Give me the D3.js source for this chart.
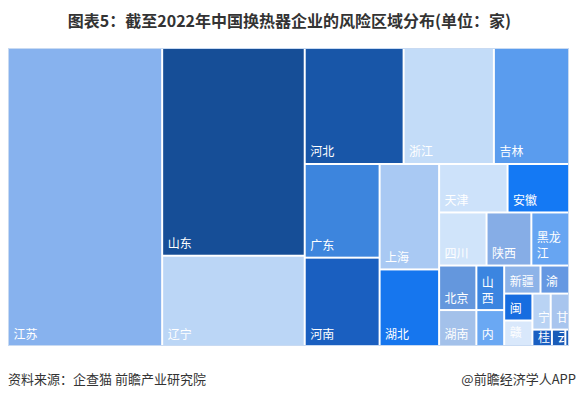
<!DOCTYPE html>
<html><head><meta charset="utf-8">
<script src="https://cdn.jsdelivr.net/npm/d3@7"></script>
<style>body{margin:0;background:#fff}</style>
</head><body>
<svg id="c" width="579" height="396"></svg>
<script>
// ---- data (unit: 家) ----
const title = "图表5：截至2022年中国换热器企业的风险区域分布(单位：家)";
const source = "资料来源：企查猫 前瞻产业研究院";
const credit = "@前瞻经济学人APP";
const regions = ["江苏","山东","辽宁","河北","浙江","吉林","广东","河南","上海","湖北","天津","安徽","四川","陕西","黑龙江","北京","湖南","山西","内蒙古","新疆","渝","闽","赣","宁夏","甘肃","桂","云","贵"];
const counts  = [2299,1482,644,574,524,436,351,331,314,228,166,149,126,119,100,83,67,62,50,51,40,38,36,33,33,16,11,3];
// ---- styles ----
const palette = ["#87b2ee","#164e97","#bbd6f6","#1856a8","#c3dcf8","#5a9cee","#3d85dd","#1a5fc0","#a9c9f3","#1676ee","#cde2fa","#1479f4","#d0e4fa","#86ade6","#67a5f2","#6497dd","#a3c1ea","#3b85e0","#6aa8f3","#8db3e8","#6598e2","#176de0","#d9e8fb","#b9d3f4","#a8c5ee","#1a5fc2","#1a5cb8","#1a5cb8"];
const FONT = "'Microsoft YaHei','Noto Sans CJK SC','Noto Sans',sans-serif";
const X0 = 8, Y0 = 48, W = 561, H = 298;

const svg = d3.select("#c").attr("font-family", FONT);
const color = d3.scaleOrdinal().domain(regions).range(palette);

svg.append("text").attr("x", 289.5).attr("y", 27).attr("text-anchor", "middle")
  .attr("font-size", 16).attr("font-weight", "bold").attr("fill", "#333").text(title);

const root = d3.hierarchy({children: regions.map((r, i) => ({name: r, value: counts[i]}))})
  .sum(d => d.value || 0);
d3.treemap().tile(d3.treemapSquarify.ratio(1)).size([W, H]).paddingInner(2).paddingOuter(1)(root);

const g = svg.append("g").attr("transform", `translate(${X0},${Y0})`);
g.append("rect").attr("x", 0.5).attr("y", 0.5).attr("width", W - 1).attr("height", H - 1)
  .attr("fill", "none").attr("stroke", "#c8daf2");

const leaves = root.leaves();
const defs = svg.append("defs");
defs.selectAll("clipPath").data(leaves).join("clipPath").attr("id", (d, i) => "cp" + i)
  .append("rect").attr("x", d => d.x0).attr("y", d => d.y0)
  .attr("width", d => d.x1 - d.x0).attr("height", d => d.y1 - d.y0);

const cell = g.selectAll("g.cell").data(leaves).join("g").attr("class", "cell");
cell.append("rect").attr("x", d => d.x0).attr("y", d => d.y0)
  .attr("width", d => d.x1 - d.x0).attr("height", d => d.y1 - d.y0)
  .attr("fill", d => color(d.data.name));

function labelLines(name, w, h) {
  const perLine = Math.max(1, Math.floor((w - 9) / 12));
  const chars = Array.from(name), lines = [];
  for (let i = 0; i < chars.length; i += perLine) lines.push(chars.slice(i, i + perLine).join(""));
  const maxLines = Math.max(1, Math.floor((h - 8) / 16));
  return lines.slice(0, maxLines);
}
cell.each(function(d, i) {
  const w = d.x1 - d.x0, h = d.y1 - d.y0;
  if (w < 6) return;
  const lines = labelLines(d.data.name, w, h);
  const off = h >= 24 ? 6.5 : Math.max(2, (h - 12) / 2 + 2);
  const t = d3.select(this).append("text").attr("clip-path", `url(#cp${i})`)
    .attr("font-size", 12).attr("fill", "#fff");
  lines.forEach((ln, k) => {
    t.append("tspan").attr("x", d.x0 + 4.5)
      .attr("y", d.y1 - off - (lines.length - 1 - k) * 16).text(ln);
  });
});

svg.append("text").attr("x", 8).attr("y", 384).attr("font-size", 13).attr("fill", "#333").text(source);
svg.append("text").attr("x", 576).attr("y", 384).attr("text-anchor", "end").attr("font-size", 13).attr("fill", "#333").text(credit);
</script>
</body></html>
